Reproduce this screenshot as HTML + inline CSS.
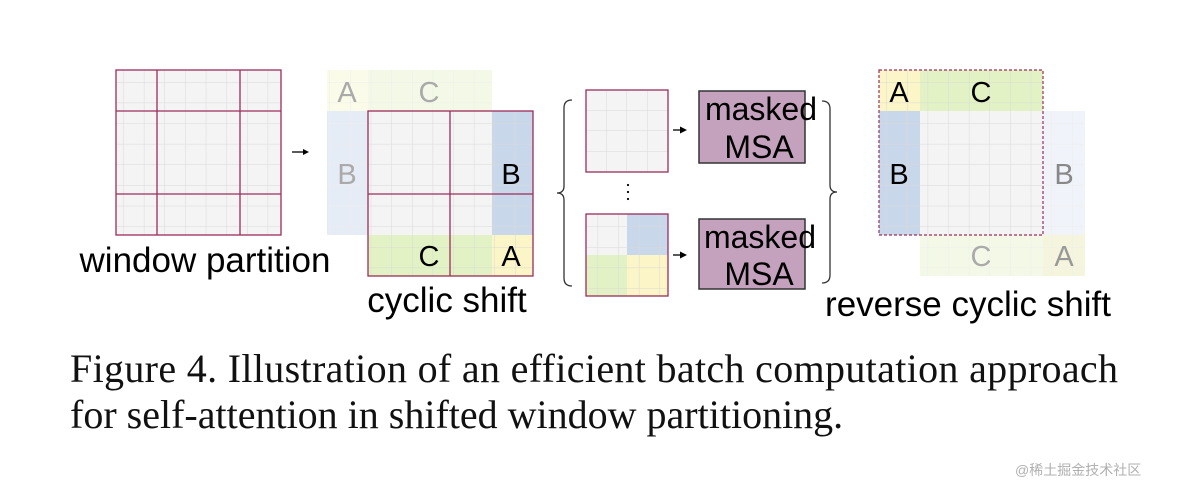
<!DOCTYPE html>
<html><head><meta charset="utf-8"><style>
html,body{margin:0;padding:0;background:#fff;width:1180px;height:490px;overflow:hidden}
svg{display:block}
</style></head><body>
<svg width="1180" height="490" viewBox="0 0 1180 490" xmlns="http://www.w3.org/2000/svg">
<defs>
<pattern id="g" width="20.625" height="20.625" patternUnits="userSpaceOnUse">
<path d="M20.625 0V20.625H0" fill="none" stroke="#d9d9d9" stroke-width="1"/>
</pattern>
<pattern id="g2" width="20.5" height="20.5" patternUnits="userSpaceOnUse" x="586" y="90">
<path d="M20.5 0V20.5H0" fill="none" stroke="#d9d9d9" stroke-width="1"/>
</pattern>
</defs>
<g font-family="Liberation Sans, sans-serif">
<rect x="116" y="70" width="165" height="165" fill="#f4f4f4"/>
<rect x="116" y="70" width="165" height="165" fill="url(#g)"/>
<g stroke="#9b2d5a" stroke-width="1.3" fill="none">
<rect x="116" y="70" width="165" height="165"/>
<line x1="157" y1="70" x2="157" y2="235"/><line x1="240" y1="70" x2="240" y2="235"/>
<line x1="116" y1="111" x2="281" y2="111"/><line x1="116" y1="194" x2="281" y2="194"/>
</g>
<text x="205" y="272" font-size="35" text-anchor="middle">window partition</text>
<line x1="292" y1="152" x2="304" y2="152" stroke="#000" stroke-width="1.3"/><path d="M309 152l-6-3v6z"/>
<g opacity="0.45">
<rect x="327" y="70" width="165" height="41" fill="#f3f7d0"/>
<rect x="368" y="70" width="124" height="41" fill="#e6f3c8"/>
<rect x="327" y="70" width="41" height="41" fill="#f7f7d0"/>
<rect x="327" y="111" width="41" height="124" fill="#c9d7ea"/>
<rect x="327" y="70" width="165" height="165" fill="url(#g)"/>
</g>
<text x="347" y="102" font-size="29" text-anchor="middle" fill="#aaa">A</text>
<text x="429" y="102" font-size="29" text-anchor="middle" fill="#aaa">C</text>
<text x="347" y="184" font-size="29" text-anchor="middle" fill="#aaa">B</text>
<rect x="368" y="111" width="165" height="165" fill="#f4f4f4"/>
<rect x="492" y="111" width="41" height="124" fill="#c9d7ea"/>
<rect x="368" y="235" width="124" height="41" fill="#e2f2c4"/>
<rect x="492" y="235" width="41" height="41" fill="#fbf5c8"/>
<rect x="368" y="111" width="165" height="165" fill="url(#g)"/>
<g stroke="#9b2d5a" stroke-width="1.3" fill="none">
<rect x="368" y="111" width="165" height="165"/>
<line x1="450" y1="111" x2="450" y2="276"/><line x1="368" y1="194" x2="533" y2="194"/>
</g>
<text x="511" y="184" font-size="29" text-anchor="middle">B</text>
<text x="429" y="266" font-size="29" text-anchor="middle">C</text>
<text x="511" y="266" font-size="29" text-anchor="middle">A</text>
<text x="447" y="312" font-size="35" text-anchor="middle">cyclic shift</text>
<path d="M572 100q-8 0-8 8v78q0 7-7 7q7 0 7 7v78q0 8 8 8" fill="none" stroke="#333" stroke-width="1.3"/>
<rect x="586" y="90" width="82" height="82" fill="#f4f4f4"/>
<rect x="586" y="90" width="82" height="82" fill="url(#g2)"/>
<rect x="586" y="90" width="82" height="82" fill="none" stroke="#9b2d5a" stroke-width="1.3"/>
<circle cx="628" cy="185" r="1.1"/><circle cx="628" cy="192" r="1.1"/><circle cx="628" cy="199" r="1.1"/>
<rect x="586" y="214" width="82" height="82" fill="#f4f4f4"/>
<rect x="627" y="214" width="41" height="41" fill="#c9d7ea"/>
<rect x="586" y="255" width="41" height="41" fill="#e2f2c4"/>
<rect x="627" y="255" width="41" height="41" fill="#fbf5c8"/>
<rect x="586" y="214" width="82" height="82" fill="url(#g)"/>
<rect x="586" y="214" width="82" height="82" fill="none" stroke="#9b2d5a" stroke-width="1.3"/>
<line x1="673" y1="130" x2="681" y2="130" stroke="#000" stroke-width="1.3"/><path d="M687 130l-7-3.5v7z"/>
<line x1="673" y1="255" x2="681" y2="255" stroke="#000" stroke-width="1.3"/><path d="M687 255l-7-3.5v7z"/>
<rect x="699" y="91" width="106" height="72" fill="#c4a2bd" stroke="#333" stroke-width="1.5"/>
<text x="761" y="120" font-size="32" text-anchor="middle">masked</text>
<text x="759" y="158" font-size="32" text-anchor="middle">MSA</text>
<rect x="699" y="219" width="106" height="70" fill="#c4a2bd" stroke="#333" stroke-width="1.5"/>
<text x="760" y="248" font-size="32" text-anchor="middle">masked</text>
<text x="759" y="285" font-size="32" text-anchor="middle">MSA</text>
<path d="M822 101q8 0 8 8v76q0 7 7 7q-7 0-7 7v76q0 8-8 8" fill="none" stroke="#333" stroke-width="1.3"/>
<g opacity="0.45">
<rect x="1043" y="111" width="42" height="124" fill="#dfe6f4"/>
<rect x="920" y="235" width="123" height="41" fill="#e6f3c8"/>
<rect x="1043" y="235" width="42" height="41" fill="#e9ebb8"/>
<rect x="920" y="111" width="165" height="165" fill="url(#g)"/>
</g>
<text x="1064" y="184" font-size="29" text-anchor="middle" fill="#888">B</text>
<text x="981" y="266" font-size="29" text-anchor="middle" fill="#aaa">C</text>
<text x="1064" y="266" font-size="29" text-anchor="middle" fill="#999">A</text>
<rect x="879" y="70" width="164" height="165" fill="#f4f4f4"/>
<rect x="879" y="70" width="41" height="41" fill="#fbf5c8"/>
<rect x="920" y="70" width="123" height="41" fill="#e2f2c4"/>
<rect x="879" y="111" width="41" height="124" fill="#c9d7ea"/>
<rect x="879" y="70" width="164" height="165" fill="url(#g)"/>
<rect x="879" y="70" width="164" height="165" fill="none" stroke="#9b2d5a" stroke-width="1.2" stroke-dasharray="3,2"/>
<text x="899" y="102" font-size="29" text-anchor="middle">A</text>
<text x="981" y="102" font-size="29" text-anchor="middle">C</text>
<text x="899" y="184" font-size="29" text-anchor="middle">B</text>
<text x="968" y="316" font-size="35" text-anchor="middle">reverse cyclic shift</text>
</g>
<g font-family="Liberation Serif, serif" font-size="40" fill="#111">
<text x="70" y="382" textLength="1048" lengthAdjust="spacing">Figure 4. Illustration of an efficient batch computation approach</text>
<text x="70" y="428">for self-attention in shifted window partitioning.</text>
</g>
<text x="1015" y="475" font-family="Liberation Sans, 'Noto Sans CJK SC', sans-serif" font-size="14" fill="#b0b0b0">@稀土掘金技术社区</text>
</svg>
</body></html>
